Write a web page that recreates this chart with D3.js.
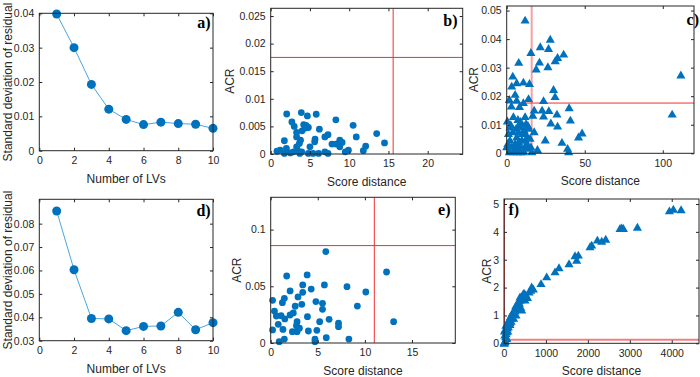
<!DOCTYPE html>
<html><head><meta charset="utf-8">
<script src="https://cdn.jsdelivr.net/npm/d3@7"></script>
<style>body{margin:0;background:#fff}svg{display:block}</style>
</head><body>
<script>
// ---------------- DATA ----------------
const lvs = [1,2,3,4,5,6,7,8,9,10];
const sdResidualA = [0.0398,0.0300,0.0193,0.0121,0.0091,0.0076,0.0083,0.0079,0.0077,0.0065];
const sdResidualD = [0.0854,0.0603,0.0395,0.0393,0.0343,0.0361,0.0363,0.0421,0.0347,0.0377];

const scoreB = [2.04,3.9,4.67,5.8,8.3,2.7,3.0,4.2,4.4,4.8,4.0,6.2,10.5,3.3,3.3,6.9,7.3,8.8,9.1,10.9,13.5,14.5,12.1,11.8,1.74,1.2,0.8,2.0,3.3,3.65,3.8,5.6,5.65,7.8,8.3,8.8,9.9,2.9,3.95,4.8,5.4,6.1,6.9,7.3,1.74,2.5,3.7,9.5,5.0,4.5,3.4];
const acrB   = [0.00725,0.0075,0.0069,0.0072,0.0062,0.0058,0.005,0.0053,0.0047,0.0048,0.0042,0.0045,0.0052,0.0039,0.0031,0.0031,0.0035,0.0025,0.0021,0.0031,0.0037,0.002,0.0014,0.0006,0.0024,0.0007,0.0005,0.001,0.0013,0.0019,0.0025,0.0022,0.0027,0.0018,0.0018,0.0013,0.0007,0.0004,0.0004,0.0001,0.0001,0.0001,0.0004,0.0001,0.0001,0.0002,0.0001,0.0004,0.0013,0.0052,0.0007];

const scoreC = [11.8,27.9,21.5,26.8,15.5,36.5,32.6,31.1,21,7.7,26.4,18.9,3.9,111.6,3.2,6.4,10.7,14.6,30,31,23.6,5.4,1.7,14,6.4,10.7,3,8.2,17.6,22.7,27,40,23.6,16.7,32.2,40.8,106,28.3,32.6,0.4,4.3,11.8,8.2,48.3,46,17.6,24.7,35.4,39,39.7,19.7,
  1.1,2.1,3.2,4.3,5.4,6.4,7.5,8.6,9.7,10.7,11.8,12.9,13.9,15,16.1,6,10.3,12.4,14.2,2.1,3.9,6.9,9,11.6,13.3,15.5,0,1.7,5.6,9.9,7.7,12,4.8,8.9,10.2,11.2,13.6,0.8,2.6,7.2];
const acrC   = [0.0467,0.040,0.0374,0.0368,0.0354,0.0348,0.0336,0.0325,0.032,0.0319,0.0304,0.0296,0.0271,0.0275,0.0236,0.0248,0.025,0.0245,0.0224,0.0199,0.0185,0.0207,0.0189,0.0192,0.0187,0.0178,0.0166,0.0164,0.0152,0.0152,0.015,0.016,0.0131,0.0134,0.0138,0.0117,0.0138,0.0107,0.0096,0.0114,0.0129,0.0129,0.0099,0.0072,0.0058,0.0076,0.0047,0.0039,0.0018,0.0006,0.0014,
  0.007,0.0047,0.0023,0.0006,0.0035,0.0058,0.0076,0.0023,0.0047,0.0006,0.007,0.0035,0.0018,0.0053,0.0006,0.0088,0.0093,0.0105,0.0088,0.0093,0.0076,0.0006,0.0006,0.0023,0.0058,0.0023,0.0023,0.0006,0.0023,0.007,0.0041,0.0047,0.0011,0.0112,0.0015,0.0082,0.0098,0.0035,0.0101,0.0119];

const scoreE = [5.85,12.3,13.05,1.7,3.87,3.4,5.7,8.1,10.1,2.06,4.3,0.2,1.45,1.24,2.9,3.4,3.3,4.8,5.5,5.5,2.6,9.2,0.4,0.6,1.1,1.5,2.4,3.9,6.2,7.2,7.2,5.2,0.8,0.2,1.3,2.3,2.8,3.05,4.0,4.9,2.8,5.9,4.7,4.7,0.9,1.45,8.3,2.06,2.73];
const acrE   = [0.0806,0.0626,0.0188,0.0591,0.060,0.0512,0.0512,0.0497,0.045,0.0459,0.0476,0.0376,0.0394,0.0356,0.0406,0.0447,0.0341,0.0365,0.035,0.0297,0.0324,0.0326,0.0282,0.0238,0.0241,0.0212,0.0265,0.0232,0.0209,0.0174,0.0144,0.0188,0.0165,0.0115,0.012,0.010,0.010,0.013,0.0106,0.0112,0.0188,0.0047,0.0035,0.0012,0.0012,0.0035,0.0035,0.0247,0.0153];

const scoreF = [3944,4039,4223,3181,2808,2767,2847,2425,2227,2330,2052,2091,1773,1694,1733,1551,1312,1217,1018,883,636,660,461,421,366,302,262,223,183,143,103,64,40,24,382,342,421,501,286,143,64,16,
  10,20,30,50,80,100,120,150,200,250,280,320,380,400,450,480,30,60,5,12,45,90,170,230,310,520,560,600,700];
const acrF   = [4.76,4.82,4.80,4.17,4.15,4.13,4.13,3.74,3.71,3.67,3.47,3.53,3.17,3.15,2.99,2.86,2.72,2.57,2.39,2.15,1.91,2.03,1.79,1.61,1.44,1.32,1.16,1.04,0.9,0.75,0.6,0.42,0.24,0.08,1.67,1.5,1.2,1.56,1.02,0.68,0.18,0.06,
  0.02,0.3,0.5,0.35,0.55,0.75,0.85,0.95,1.1,1.2,1.35,1.4,1.55,1.3,1.7,1.8,0.1,0.2,0.01,0.45,0.65,0.45,0.8,0.9,1.25,1.75,1.65,1.85,1.95];

// thresholds (red lines)
const limitsB = [15.6, 0.0175];
const limitsC = [16.0, 0.0176];
const limitsE = [11.0, 0.0859];
const limitsF = [10, 0.13];

// tick values
const ticksLVx = [0,2,4,6,8,10];
const ticksAy = [0,0.01,0.02,0.03,0.04];
const ticksDy = [0.03,0.04,0.05,0.06,0.07,0.08];
const ticksBx = [0,5,10,15,20];
const ticksBy = [0,0.005,0.01,0.015,0.02,0.025];
const ticksCx = [0,50,100];
const ticksCy = [0,0.01,0.02,0.03,0.04,0.05];
const ticksEx = [0,5,10,15];
const ticksEy = [0,0.05,0.1];
const ticksFx = [0,1000,2000,3000,4000];
const ticksFy = [0,1,2,3,4,5];

// ---------------- DRAW ----------------
const W = 700, H = 377;
const svg = d3.select("body").append("svg").attr("width", W).attr("height", H);
const blue = "#0072BD", lineBlue = "#4DA3DF", axisCol = "#262626", red = "#F03030";
const sans = "Liberation Sans, Arial, Helvetica, sans-serif";
const fmt = v => String(+v.toFixed(4));

function panel(p) {
  const g = svg.append("g");
  const x = d3.scaleLinear().domain(p.xd).range([p.l, p.r]);
  const y = d3.scaleLinear().domain(p.yd).range([p.b, p.t]);
  const clipId = "clip" + p.letter;
  g.append("clipPath").attr("id", clipId).append("rect")
    .attr("x", p.l).attr("y", p.t).attr("width", p.r - p.l).attr("height", p.b - p.t);
  const plot = g.append("g").attr("clip-path", `url(#${clipId})`);

  if (p.lim) {
    plot.append("line").attr("x1", x(p.lim[0])).attr("x2", x(p.lim[0])).attr("y1", p.t).attr("y2", p.b)
      .attr("stroke", p.vCol || red).attr("stroke-width", p.vW || 1);
    plot.append("line").attr("x1", p.l).attr("x2", p.r).attr("y1", y(p.lim[1])).attr("y2", y(p.lim[1]))
      .attr("stroke", p.hCol || red).attr("stroke-width", p.hW || 1);
  }

  if (p.line) {
    plot.append("path").datum(p.xs.map((v, i) => [v, p.ys[i]]))
      .attr("d", d3.line().x(d => x(d[0])).y(d => y(d[1])))
      .attr("fill", "none").attr("stroke", lineBlue).attr("stroke-width", 1);
  }
  const pts = p.xs.map((v, i) => [v, p.ys[i]]);
  if (p.marker === "tri") {
    const sym = d3.symbol().type(d3.symbolTriangle).size(p.size);
    g.append("g").selectAll("path").data(pts).join("path")
      .attr("d", sym).attr("transform", d => `translate(${x(d[0])},${y(d[1]) + 1})`)
      .attr("fill", blue);
  } else {
    g.append("g").selectAll("circle").data(pts).join("circle")
      .attr("cx", d => x(d[0])).attr("cy", d => y(d[1])).attr("r", p.rad).attr("fill", blue);
  }

  g.append("rect").attr("x", p.l).attr("y", p.t).attr("width", p.r - p.l).attr("height", p.b - p.t)
    .attr("fill", "none").attr("stroke", axisCol).attr("stroke-width", 1);

  const tl = 3;
  const xa = d3.axisBottom(x).tickValues(p.xt).tickSize(-tl).tickFormat(fmt).tickPadding(6);
  g.append("g").attr("transform", `translate(0,${p.b})`).call(xa);
  const ya = d3.axisLeft(y).tickValues(p.yt).tickSize(-tl).tickFormat(fmt).tickPadding(5);
  g.append("g").attr("transform", `translate(${p.l},0)`).call(ya);
  g.append("g").attr("transform", `translate(0,${p.t})`).call(d3.axisTop(x).tickValues(p.xt).tickSize(-tl).tickFormat(""));
  g.append("g").attr("transform", `translate(${p.r},0)`).call(d3.axisRight(y).tickValues(p.yt).tickSize(-tl).tickFormat(""));
  g.selectAll(".domain").remove();
  g.selectAll(".tick line").attr("stroke", axisCol);
  g.selectAll(".tick text").attr("fill", axisCol).style("font-family", sans).style("font-size", "10.5px");

  g.append("text").attr("x", (p.l + p.r) / 2).attr("y", p.b + 32).attr("text-anchor", "middle")
    .style("font-family", sans).style("font-size", "12px").attr("fill", axisCol).text(p.xlab);
  g.append("text").attr("transform", `translate(${p.ylx},${(p.t + p.b) / 2}) rotate(-90)`).attr("text-anchor", "middle")
    .style("font-family", sans).style("font-size", "12px").attr("fill", axisCol).text(p.ylab);

  g.append("text").attr("x", p.lx).attr("y", p.t + p.ly).attr("text-anchor", p.la)
    .style("font-family", "Liberation Serif, Times New Roman, serif").style("font-weight", "bold")
    .style("font-size", "16px").attr("fill", "#000").text(p.letter + ")");
}

panel({letter:"a", l:39.3, r:213, t:13.3, b:150.7, xd:[0,10], yd:[0,0.04], xt:ticksLVx, yt:ticksAy,
  xs:lvs, ys:sdResidualA, line:true, rad:4.5, xlab:"Number of LVs", ylab:"Standard deviation of residual", ylx:11.5, lx:210.5, ly:15, la:"end"});
panel({letter:"b", l:270.7, r:462.7, t:8.3, b:154, xd:[0,24.46], yd:[0,0.0264], xt:ticksBx, yt:ticksBy,
  xs:scoreB, ys:acrB, rad:3.4, lim:limitsB, xlab:"Score distance", ylab:"ACR", ylx:234, lx:457.5, ly:18, la:"end"});
panel({letter:"c", l:506.7, r:694, t:6, b:153.3, xd:[0,120], yd:[0,0.0516], xt:ticksCx, yt:ticksCy,
  xs:scoreC, ys:acrC, marker:"tri", size:36, lim:limitsC, vCol:"#F4A0A0", vW:2, xlab:"Score distance", ylab:"ACR", ylx:478, lx:699, ly:19, la:"end"});
panel({letter:"d", l:39.3, r:213, t:199.3, b:340.7, xd:[0,10], yd:[0.03,0.0904], xt:ticksLVx, yt:ticksDy,
  xs:lvs, ys:sdResidualD, line:true, rad:4.5, xlab:"Number of LVs", ylab:"Standard deviation of residual", ylx:11.5, lx:210.7, ly:17, la:"end"});
panel({letter:"e", l:270.7, r:455.3, t:197.3, b:343, xd:[0,19.6], yd:[0,0.1285], xt:ticksEx, yt:ticksEy,
  xs:scoreE, ys:acrE, rad:3.4, lim:limitsE, xlab:"Score distance", ylab:"ACR", ylx:240.5, lx:450.5, ly:18, la:"end"});
panel({letter:"f", l:504, r:699, t:199, b:343.3, xd:[0,4650], yd:[0,5.18], xt:ticksFx, yt:ticksFy,
  xs:scoreF, ys:acrF, marker:"tri", size:36, lim:limitsF, vCol:"#C03030", hCol:"#F08080", hW:2, xlab:"Score distance", ylab:"ACR", ylx:490.7, lx:508.5, ly:16, la:"start"});
</script>
</body></html>
